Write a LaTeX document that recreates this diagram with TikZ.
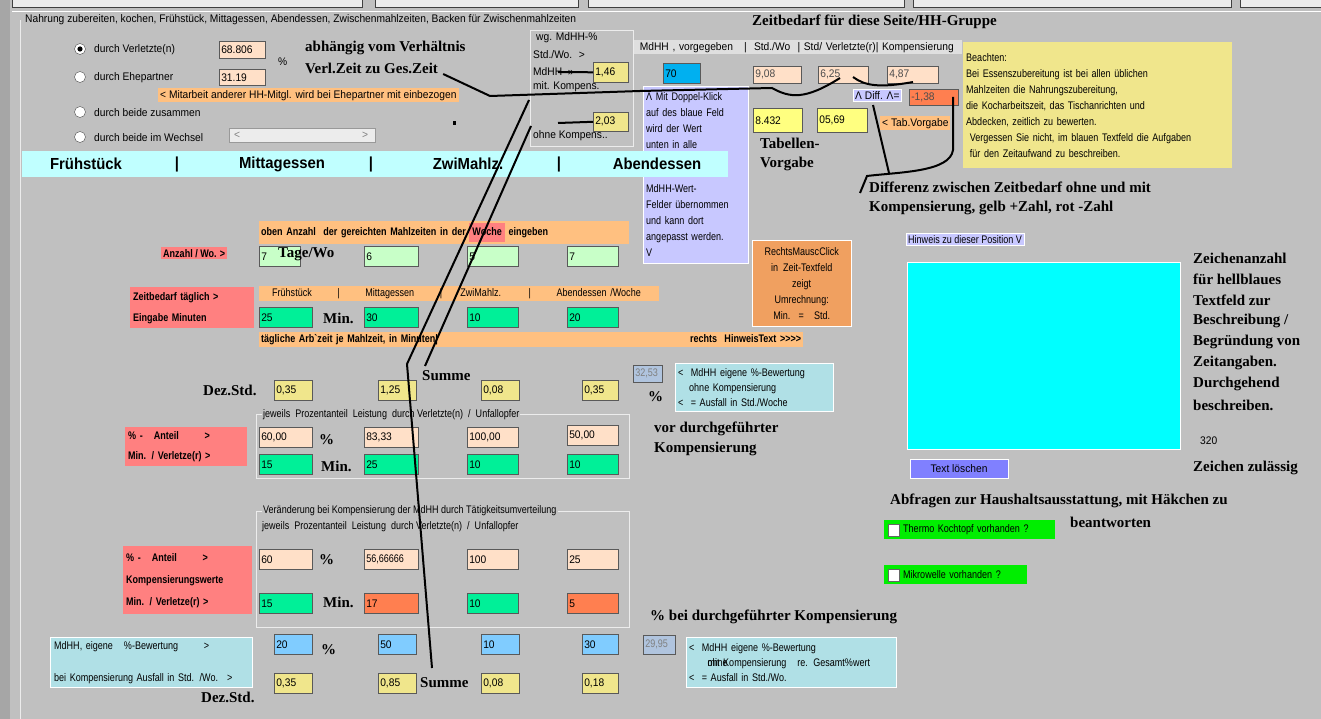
\documentclass[tikz,border=0pt]{standalone}
\usepackage{fontspec}
\setmainfont[FakeStretch=0.93]{Liberation Sans}
\newfontfamily\cond[FakeStretch=0.82]{Liberation Sans}
\newfontfamily\hand{Liberation Serif}
\definecolor{bg}{HTML}{C0C0C0}
\definecolor{peach}{HTML}{FFE0C8}
\definecolor{orng}{HTML}{FFC080}
\definecolor{lgreen}{HTML}{C8FFC8}
\definecolor{mgreen}{HTML}{00F098}
\definecolor{yelf}{HTML}{F0E68C}
\definecolor{yel2}{HTML}{FFFF80}
\definecolor{redl}{HTML}{FF8080}
\definecolor{bluef}{HTML}{00B0F0}
\definecolor{lblue}{HTML}{80CCFF}
\definecolor{banner}{HTML}{C0FFFF}
\definecolor{lav}{HTML}{C8C8FF}
\definecolor{pale}{HTML}{B0E0E6}
\definecolor{redor}{HTML}{FF7F50}
\definecolor{steel}{HTML}{B0C4DE}
\definecolor{mausor}{HTML}{F0A060}
\definecolor{cyanbox}{HTML}{00FFFF}
\definecolor{chk}{HTML}{00EE00}
\tikzset{
 f/.style={anchor=north west,inner sep=2pt,align=left,draw=gray!70!black,line width=0.6pt,font=\fontsize{11}{13}\selectfont},
 lab/.style={anchor=west,inner sep=0pt,font=\fontsize{11}{13}\selectfont},
 hw/.style={anchor=west,inner sep=0pt,font=\hand\bfseries\fontsize{15}{17}\selectfont},
 pen/.style={line width=2pt,black},
 grp/.style={draw=white!85!gray,line width=0.8pt},
 radio/.style={circle,draw=gray!60!black,fill=white,minimum size=11pt,inner sep=0pt}
}
\newcommand\F[7]{\pgfmathsetmacro\fw{#4-#2}\pgfmathsetmacro\fh{#5-#3}\pgfmathsetmacro\tw{#4-#2-4}%
 \node[f,fill=#6,minimum width=\fw pt,minimum height=\fh pt,text width=\tw pt] (#1) at (#2,#3) {#7};}
\begin{document}
\begin{tikzpicture}[x=1pt,y=-1pt]
\useasboundingbox (0,0) rectangle (1321,719);
\fill[bg] (0,0) rectangle (1321,719);
\fill[gray!70] (0,0) rectangle (10,719);
\foreach \a/\b [count=\i] in {12/362,375/578,588/904,913/1231,1240/1321}
 \draw[fill=gray!15,draw=gray!50!black] (\a,-3) rectangle (\b,7);
\draw[white,line width=1pt] (12,12) -- (1321,12);
\draw[grp] (20,20) -- (20,719);
\node[lab] (hdr) at (25,20) {Nahrung zubereiten, kochen, Frühstück, Mittagessen, Abendessen, Zwischenmahlzeiten, Backen für Zwischenmahlzeiten};
% radios
\node[radio] (r1) at (80,49) {}; \fill (r1) circle (2.6pt);
\node[radio] (r2) at (80,77) {};
\node[radio] (r3) at (80,112) {};
\node[radio] (r4) at (80,137) {};
\node[lab] (l1) at (94,50) {durch Verletzte(n)};
\node[lab] (l2) at (94,78) {durch Ehepartner};
\node[lab] (l3) at (94,113) {durch beide zusammen};
\node[lab] (l4) at (94,138) {durch beide im Wechsel};
\F{p1}{219}{41}{265}{58}{peach}{68.806}
\F{p2}{219}{69}{265}{85}{peach}{31.19}
\node[lab] (pc) at (278,62) {\%};
\node[anchor=north west,fill=orng,inner sep=2pt,font=\fontsize{11}{13}\selectfont] (mit) at (158,88) {< Mitarbeit anderer HH-Mitgl. wird bei Ehepartner mit einbezogen};
\draw[fill=gray!15,draw=gray!80] (229,128) rectangle (375,142);
\node[lab,gray] (sl) at (234,135) {<}; \node[lab,gray] (sr) at (362,135) {>};
\node[hw] (ab1) at (305,48) {abhängig vom Verhältnis};
\node[hw] (ab2) at (305,68) {Verl.Zeit zu Ges.Zeit};
% groupbox MdHH
\draw[grp] (530,30) rectangle (633,146);
\node[lab] (g1) at (536,38) {wg. MdHH-\%};
\node[lab] (g2) at (533,55) {Std./Wo. \ >};
\node[lab] (g3) at (533,72) {MdHH \ >>};
\node[lab] (g4) at (533,87) {mit. Kompens.};
\F{v146}{593}{62}{628}{82}{yelf}{1,46}
\F{v203}{593}{112}{628}{131}{yelf}{2,03}
\node[lab] (g5) at (533,136) {ohne Kompens..};
% lavender
\node[anchor=north west,fill=lav,draw=white,inner sep=3pt,minimum width=105pt,minimum height=177pt,text width=99pt,align=left,font=\cond\fontsize{11}{16}\selectfont] (lavbox) at (643,86) {Λ Mit Doppel-Klick\\auf des blaue Feld\\wird der Wert\\unten in alle\\[28pt]MdHH-Wert-\\Felder übernommen\\und kann dort\\angepasst werden.\\V};
% banner
\fill[banner] (22,151) rectangle (728,177);
\begin{scope}[font=\bfseries\fontsize{16}{18}\selectfont]
\node (b1) at (86,164) {Frühstück};
\node (b2) at (177,164) {|};
\node (b3) at (282,164) {Mittagessen};
\node (b4) at (371,164) {|};
\node (b5) at (468,164) {ZwiMahlz.};
\node (b6) at (559,164) {|};
\node (b7) at (657,164) {Abendessen};
\end{scope}
% right top
\node[hw] (zb) at (752,22) {Zeitbedarf für diese Seite/HH-Gruppe};
\node[anchor=north west,fill=gray!25,inner sep=2pt,minimum width=328pt,text width=324pt,align=left,font=\fontsize{11}{13}\selectfont] (th) at (634,40) {\ MdHH , vorgegeben \ \ | \ Std./Wo \ | Std/ Verletzte(r)| Kompensierung};
\F{v70}{663}{63}{700}{83}{bluef}{70}
\F{v908}{753}{66}{801}{83}{peach}{\textcolor{gray!60!black}{9,08}}
\F{v625}{818}{66}{868}{83}{peach}{\textcolor{gray!60!black}{6,25}}
\F{v487}{887}{66}{938}{83}{peach}{\textcolor{gray!60!black}{4,87}}
\node[anchor=north west,fill=lav,draw=white,inner sep=2pt,font=\fontsize{11}{12}\selectfont] (diff) at (853,89) {Λ Diff. Λ=};
\F{vm138}{909}{89}{958}{105}{redor}{\textcolor{gray!60!black}{-1,38}}
\F{v8432}{753}{108}{802}{132}{yel2}{8.432}
\F{v0569}{817}{108}{867}{132}{yel2}{05,69}
\node[anchor=north west,fill=orng,inner sep=2pt,font=\fontsize{11}{12}\selectfont] (tabv) at (880,116) {< Tab.Vorgabe};
\node[hw] (tv1) at (760,143) {Tabellen-};
\node[hw] (tv2) at (760,164) {Vorgabe};
\node[anchor=north west,fill=yelf,inner sep=3pt,minimum width=269pt,minimum height=126pt,text width=263pt,align=left,font=\cond\fontsize{11}{16}\selectfont] (beach) at (963,42) {Beachten:\\Bei Essenszubereitung ist bei allen üblichen\\Mahlzeiten die Nahrungszubereitung,\\die Kocharbeitszeit, das Tischanrichten und\\Abdecken, zeitlich zu bewerten.\\\ Vergessen Sie nicht, im blauen Textfeld die Aufgaben\\\ für den Zeitaufwand zu beschreiben.};
\node[hw] (df1) at (869,187) {Differenz zwischen Zeitbedarf ohne und mit};
\node[hw] (df2) at (869,208) {Kompensierung, gelb +Zahl, rot -Zahl};
\node[anchor=north west,fill=lav,draw=white,inner sep=2pt,font=\cond\fontsize{11}{13}\selectfont] (hin) at (906,233) {Hinweis zu dieser Position V};
\draw[fill=cyanbox,draw=white] (907,262) rectangle (1180,449);
\begin{scope}[hw,anchor=west]
\node (z1) at (1193,258) {Zeichenanzahl};
\node (z2) at (1193,279) {für hellblaues};
\node (z3) at (1193,300) {Textfeld zur};
\node (z4) at (1193,321) {Beschreibung /};
\node (z5) at (1193,342) {Begründung von};
\node (z6) at (1193,363) {Zeitangaben.};
\node (z7) at (1193,384) {Durchgehend};
\node (z8) at (1193,405) {beschreiben.};
\node (z9) at (1193,468) {Zeichen zulässig};
\end{scope}
\node[lab] (n320) at (1200,441) {320};
\node[draw=white,fill=blue!50!white,minimum width=98pt,minimum height=19pt,inner sep=0pt,font=\fontsize{11}{13}\selectfont] (tl) at (959,469) {Text löschen};
\node[hw] (abf1) at (890,501) {Abfragen zur Haushaltsausstattung, mit Häkchen zu};
\node[hw] (abf2) at (1070,522) {beantworten};
\node[anchor=north west,fill=chk,inner sep=2pt,minimum height=19pt,minimum width=171pt,text width=167pt,align=left,font=\cond\fontsize{11}{13}\selectfont] (th1) at (884,520) {\hspace*{17pt}Thermo Kochtopf vorhanden ?};
\draw[fill=white,draw=black!60] (888,524) rectangle (899,536);
\node[anchor=north west,fill=chk,inner sep=2pt,minimum height=19pt,minimum width=143pt,text width=139pt,align=left,font=\cond\fontsize{11}{13}\selectfont] (th2) at (884,565) {\hspace*{17pt}Mikrowelle vorhanden ?};
\draw[fill=white,draw=black!60] (888,569) rectangle (899,581);
% Anzahl rows
\node[anchor=north west,fill=orng,inner sep=2pt,minimum width=370pt,text width=366pt,font=\cond\bfseries\fontsize{11}{13}\selectfont,align=left] (oben) at (259,221) {oben Anzahl \ der gereichten Mahlzeiten in der \colorbox{redl}{\strut Woche} eingeben};
\node[anchor=north west,fill=redl,inner sep=2pt,font=\cond\bfseries\fontsize{11}{13}\selectfont] (anz) at (161,247) {Anzahl / Wo. >};
\F{a1}{259}{246}{300}{266}{lgreen}{7}
\F{a2}{364}{246}{418}{266}{lgreen}{6}
\F{a3}{467}{246}{518}{266}{lgreen}{5}
\F{a4}{567}{246}{618}{266}{lgreen}{7}
\node[hw] (tage) at (278,254) {Tage/Wo};
\node[anchor=north west,fill=redl,inner sep=3pt,minimum width=124pt,minimum height=41pt,text width=118pt,align=left,font=\cond\bfseries\fontsize{11}{21}\selectfont] (zt) at (130,287) {Zeitbedarf täglich >\\Eingabe Minuten};
\node[anchor=north west,fill=orng,inner sep=2pt,minimum width=400pt,text width=396pt,align=left,font=\cond\fontsize{11}{13}\selectfont] (mz) at (259,286) {\ \ \ Frühstück \qquad | \qquad Mittagessen \qquad | \quad\ ZwiMahlz. \qquad | \qquad Abendessen /Woche};
\F{m1}{259}{307}{312}{327}{mgreen}{25}
\F{m2}{364}{307}{418}{327}{mgreen}{30}
\F{m3}{467}{307}{518}{327}{mgreen}{10}
\F{m4}{567}{307}{618}{327}{mgreen}{20}
\node[hw] (min1) at (323,318) {Min.};
\node[anchor=north west,fill=orng,inner sep=2pt,minimum width=544pt,text width=540pt,align=left,font=\cond\bfseries\fontsize{11}{13}\selectfont] (tag) at (259,332) {tägliche Arb`zeit je Mahlzeit, in Minuten|\hfill rechts \ HinweisText >>>>\hspace*{20pt}};
\node[anchor=north west,fill=mausor,draw=white,inner sep=2pt,minimum width=99pt,minimum height=86pt,align=center,font=\cond\fontsize{11}{16}\selectfont] (maus) at (752,240) {RechtsMauscClick\\in \ Zeit-Textfeld\\zeigt\\Umrechnung:\\Min. \ \ = \ \ \ Std.};
% Dez.Std row
\node[hw] (summe1) at (422,376) {Summe};
\node[hw] (dez1) at (203,390) {Dez.Std.};
\F{d1}{274}{380}{312}{400}{yelf}{0,35}
\F{d2}{378}{380}{416}{400}{yelf}{1,25}
\F{d3}{481}{380}{519}{400}{yelf}{0,08}
\F{d4}{582}{380}{618}{400}{yelf}{0,35}
\F{s3253}{633}{365}{662}{382}{steel}{\textcolor{gray}{\cond 32,53}}
\node[hw] (pc2) at (648,397) {\%};
\node[anchor=north west,fill=pale,draw=white,inner sep=3pt,minimum width=158pt,minimum height=48pt,text width=152pt,align=left,font=\cond\fontsize{11}{15}\selectfont] (oh) at (675,363) {<\ \ MdHH eigene \%-Bewertung\\\ \ \ ohne Kompensierung\\<\ \ = Ausfall in Std./Woche};
\node[hw] (vor1) at (654,429) {vor durchgeführter};
\node[hw] (vor2) at (654,449) {Kompensierung};
% group 1
\draw[grp] (256,414) rectangle (629,478);
\node[lab,fill=bg,inner sep=1pt,font=\cond\fontsize{11}{13}\selectfont] (gt1) at (262,415) {jeweils \ Prozentanteil \ Leistung \ durch Verletzte(n) \ / \ Unfallopfer};
\node[anchor=north west,fill=redl,inner sep=3pt,minimum width=122pt,minimum height=39pt,text width=116pt,align=left,font=\cond\bfseries\fontsize{11}{20}\selectfont] (an1) at (125,427) {\% - \ \ Anteil \qquad >\\Min. / Verletze(r) >};
\F{q1}{259}{427}{312}{447}{peach}{60,00}
\F{q2}{364}{427}{418}{447}{peach}{83,33}
\F{q3}{467}{427}{518}{447}{peach}{100,00}
\F{q4}{567}{425}{618}{445}{peach}{50,00}
\node[hw] (pc3) at (319,440) {\%};
\F{w1}{259}{454}{312}{474}{mgreen}{15}
\F{w2}{364}{454}{418}{474}{mgreen}{25}
\F{w3}{467}{454}{518}{474}{mgreen}{10}
\F{w4}{567}{454}{618}{474}{mgreen}{10}
\node[hw] (min2) at (321,466) {Min.};
% group 2
\draw[grp] (256,511) rectangle (629,627);
\node[lab,fill=bg,inner sep=1pt,font=\cond\fontsize{11}{13}\selectfont] (gt2) at (262,511) {Veränderung bei Kompensierung der MdHH durch Tätigkeitsumverteilung};
\node[lab,font=\cond\fontsize{11}{13}\selectfont] (gt3) at (262,527) {jeweils \ Prozentanteil \ Leistung \ durch Verletzte(n) \ / \ Unfallopfer};
\node[anchor=north west,fill=redl,inner sep=3pt,minimum width=129pt,minimum height=68pt,text width=123pt,align=left,font=\cond\bfseries\fontsize{11}{22}\selectfont] (an2) at (123,546) {\% - \ \ Anteil \qquad >\\Kompensierungswerte\\Min. / Verletze(r) >};
\F{k1}{259}{549}{312}{569}{peach}{60}
\F{k2}{364}{549}{418}{569}{peach}{\cond 56,66666}
\F{k3}{467}{549}{518}{569}{peach}{100}
\F{k4}{567}{549}{618}{569}{peach}{25}
\node[hw] (pc4) at (319,560) {\%};
\F{c1}{259}{593}{312}{613}{mgreen}{15}
\F{c2}{364}{593}{418}{613}{redor}{17}
\F{c3}{467}{593}{518}{613}{mgreen}{10}
\F{c4}{567}{593}{618}{613}{redor}{5}
\node[hw] (min3) at (323,602) {Min.};
\node[hw] (bei) at (650,617) {\% bei durchgeführter Kompensierung};
% bottom
\node[anchor=north west,fill=pale,draw=white,inner sep=4pt,minimum width=202pt,minimum height=50pt,text width=194pt,align=left,font=\cond\fontsize{11}{32}\selectfont] (mdb) at (50,637) {MdHH, eigene \ \ \%-Bewertung \qquad >\\bei Kompensierung Ausfall in Std. /Wo. \ >};
\F{e1}{274}{634}{312}{654}{lblue}{20}
\F{e2}{378}{634}{416}{654}{lblue}{50}
\F{e3}{481}{634}{519}{654}{lblue}{10}
\F{e4}{582}{634}{618}{654}{lblue}{30}
\node[hw] (pc5) at (321,650) {\%};
\F{h1}{274}{673}{312}{693}{yelf}{0,35}
\F{h2}{378}{673}{416}{693}{yelf}{0,85}
\F{h3}{481}{673}{519}{693}{yelf}{0,08}
\F{h4}{582}{673}{618}{693}{yelf}{0,18}
\node[hw] (summe2) at (420,683) {Summe};
\node[hw] (dez2) at (201,697) {Dez.Std.};
\F{s2995}{643}{635}{675}{654}{steel}{\textcolor{gray}{\cond 29,95}}
\node[anchor=north west,fill=pale,draw=white,inner sep=3pt,minimum width=210pt,minimum height=50pt,text width=204pt,align=left,font=\cond\fontsize{11}{15}\selectfont] (mt) at (686,637) {<\ \ MdHH eigene \%-Bewertung\\\ \ \ \ \ \rlap{ohne}mit Kompensierung \ \ re. Gesamt\%wert\\<\ \ = Ausfall in Std./Wo.};
% handwritten pen lines
\fill (453,121) rectangle (456,125);
\draw[pen] (ab2.east) ++(5,6) coordinate (pa) -- (490,96) -- (640,91) -- (772,88) .. controls (790,98) and (805,100) .. (840,78);
\draw[pen] (853,77) .. controls (865,86) and (880,88) .. (913,82);
\draw[pen] (558,72) -- (v146.west);
\draw[pen] (558,123) -- (v203.west);
\draw[pen] (529,100) -- (407,364) -- (432,668);
\draw[pen] (531,126) -- (425,366);
\draw[pen] (873,105) -- (889,173);
\draw[pen] (860,193) -- (867,176) .. controls (900,172) and (950,172) .. (953,150) -- (953,97);
\end{tikzpicture}
\end{document}
